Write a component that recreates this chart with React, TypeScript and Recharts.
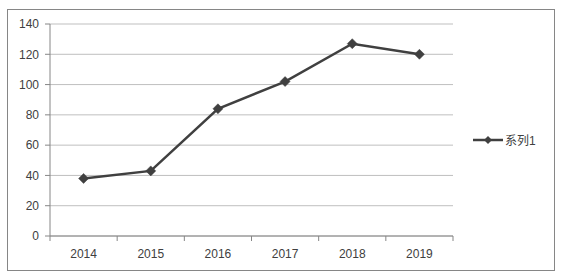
import React from 'react';
import { LineChart, Line, XAxis, YAxis, CartesianGrid, Legend } from 'recharts';

const categories = ['2014', '2015', '2016', '2017', '2018', '2019'];
const series1 = [38, 43, 84, 102, 127, 120];
const yTicks = [0, 20, 40, 60, 80, 100, 120, 140];
const seriesName = '系列1';

const data = categories.map((c, i) => ({ year: c, v: series1[i] }));

const FONT = '"Liberation Sans", "Noto Sans CJK SC", sans-serif';
const TEXT = '#404040';
const AXIS = '#868686';
const LINE = '#404040';
const HALF_BAND = (453 - 50) / categories.length / 2;

const Diamond = (props: any) => {
  const { cx, cy } = props;
  if (cx == null || cy == null) return null;
  const r = 5;
  return (
    <polygon
      points={`${cx},${cy - r} ${cx + r},${cy} ${cx},${cy + r} ${cx - r},${cy}`}
      fill={LINE}
      stroke={LINE}
      strokeWidth={0.5}
    />
  );
};

const XTick = (props: any) => {
  const { x, y, payload, index } = props;
  const last = index === categories.length - 1;
  return (
    <g>
      <line x1={x - HALF_BAND} x2={x - HALF_BAND} y1={y} y2={y + 5} stroke={AXIS} strokeWidth={1} />
      {last && <line x1={x + HALF_BAND} x2={x + HALF_BAND} y1={y} y2={y + 5} stroke={AXIS} strokeWidth={1} />}
      <text x={x} y={y + 22} textAnchor="middle" fill={TEXT} fontSize={12} fontFamily={FONT}>
        {payload.value}
      </text>
    </g>
  );
};

const LegendContent = () => (
  <div style={{ display: 'flex', alignItems: 'center', fontFamily: FONT, fontSize: 12, color: TEXT }}>
    <svg width={30} height={10}>
      <line x1={0} x2={30} y1={5} y2={5} stroke={LINE} strokeWidth={2.5} />
      <polygon points="15,1 19,5 15,9 11,5" fill={LINE} />
    </svg>
    <span style={{ marginLeft: 2 }}>{seriesName}</span>
  </div>
);

export default function App() {
  return (
    <div style={{ position: 'absolute', left: 0, top: 0, width: 563, height: 277, background: '#fff' }}>
      <div
        style={{
          position: 'absolute',
          left: 7,
          top: 9,
          width: 546,
          height: 260,
          border: '1px solid #868686',
        }}
      />
      <div style={{ position: 'absolute', left: 0, top: 0 }}>
        <LineChart width={563} height={277} data={data} margin={{ top: 24, right: 110, bottom: 11, left: 10 }}>
          <CartesianGrid horizontal vertical={false} stroke="#bfbfbf" strokeWidth={1} />
          <XAxis
            dataKey="year"
            height={30}
            padding={{ left: HALF_BAND, right: HALF_BAND }}
            tickLine={false}
            tickSize={0}
            tickMargin={0}
            axisLine={{ stroke: AXIS, strokeWidth: 1 }}
            tick={<XTick />}
            interval={0}
          />
          <YAxis
            width={40}
            domain={[0, 140]}
            ticks={yTicks}
            interval={0}
            tickSize={5}
            tickMargin={6}
            tickLine={{ stroke: AXIS }}
            axisLine={{ stroke: AXIS }}
            tick={{ fill: TEXT, fontSize: 12, fontFamily: FONT }}
          />
          <Legend
            layout="horizontal"
            align="center"
            verticalAlign="middle"
            content={<LegendContent />}
            wrapperStyle={{ left: 473, top: 131, width: 80 }}
          />
          <Line
            type="linear"
            dataKey="v"
            name={seriesName}
            stroke={LINE}
            strokeWidth={2.5}
            dot={<Diamond />}
            activeDot={false}
            isAnimationActive={false}
          />
        </LineChart>
      </div>
    </div>
  );
}
